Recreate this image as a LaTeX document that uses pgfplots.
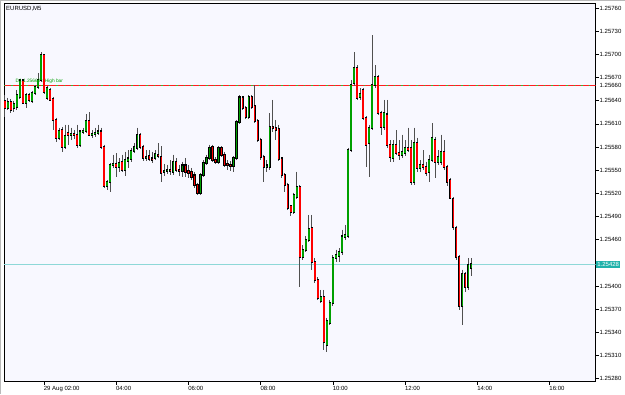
\documentclass[border=0pt]{standalone}
\usepackage{fontspec}
\setmainfont{Liberation Sans}
\usepackage{pgfplots}
\usepackage{pgfplotstable}
\pgfplotsset{compat=1.18}
\definecolor{bull}{HTML}{00A000}
\definecolor{bear}{HTML}{FF0000}
\definecolor{wick}{HTML}{505050}
\definecolor{plotbg}{HTML}{F8F8FF}
\definecolor{pricebox}{HTML}{20B2AA}
\definecolor{priceline}{HTML}{8ED8D8}
\definecolor{lvlred}{HTML}{FF2020}
\definecolor{lvlgreen}{HTML}{30C030}

\pgfplotstableread{
k O H L C
11 1.25640 1.25647 1.25619 1.25631
12 1.25631 1.25644 1.25628 1.25638
13 1.25638 1.25642 1.25624 1.25628
14 1.25631 1.25640 1.25625 1.25636
15 1.25632 1.25654 1.25628 1.25647
16 1.25645 1.25668 1.25642 1.25666
17 1.25666 1.25667 1.25636 1.25637
18 1.25637 1.25650 1.25631 1.25647
19 1.25647 1.25650 1.25638 1.25641
20 1.25640 1.25653 1.25637 1.25650
21 1.25650 1.25660 1.25647 1.25658
22 1.25658 1.25676 1.25655 1.25667
23 1.25667 1.25703 1.25664 1.25699
24 1.25699 1.25700 1.25649 1.25651
25 1.25644 1.25659 1.25641 1.25656
26 1.25654 1.25656 1.25640 1.25641
27 1.25642 1.25645 1.25602 1.25615
28 1.25615 1.25618 1.25587 1.25592
29 1.25592 1.25605 1.25589 1.25601
30 1.25602 1.25606 1.25574 1.25580
31 1.25580 1.25609 1.25578 1.25594
32 1.25598 1.25609 1.25583 1.25596
33 1.25596 1.25605 1.25589 1.25597
34 1.25597 1.25602 1.25590 1.25596
35 1.25596 1.25609 1.25579 1.25583
36 1.25583 1.25602 1.25580 1.25600
37 1.25600 1.25605 1.25597 1.25601
38 1.25601 1.25623 1.25598 1.25614
39 1.25614 1.25625 1.25594 1.25596
40 1.25596 1.25602 1.25592 1.25597
41 1.25597 1.25605 1.25593 1.25598
42 1.25598 1.25609 1.25596 1.25600
43 1.25600 1.25605 1.25578 1.25580
44 1.25580 1.25583 1.25527 1.25530
45 1.25530 1.25537 1.25524 1.25535
46 1.25535 1.25559 1.25522 1.25557
47 1.25557 1.25570 1.25553 1.25558
48 1.25558 1.25572 1.25541 1.25554
49 1.25554 1.25566 1.25548 1.25559
50 1.25561 1.25570 1.25548 1.25550
51 1.25550 1.25574 1.25543 1.25563
52 1.25562 1.25576 1.25553 1.25565
53 1.25565 1.25579 1.25561 1.25575
54 1.25575 1.25585 1.25572 1.25580
55 1.25579 1.25605 1.25576 1.25596
56 1.25596 1.25598 1.25578 1.25580
57 1.25580 1.25583 1.25562 1.25566
58 1.25566 1.25576 1.25562 1.25567
59 1.25568 1.25576 1.25562 1.25565
60 1.25565 1.25574 1.25559 1.25563
61 1.25566 1.25576 1.25563 1.25571
62 1.25570 1.25585 1.25566 1.25568
63 1.25567 1.25581 1.25535 1.25546
64 1.25548 1.25558 1.25543 1.25549
65 1.25549 1.25557 1.25545 1.25550
66 1.25550 1.25563 1.25544 1.25549
67 1.25548 1.25570 1.25544 1.25561
68 1.25561 1.25566 1.25548 1.25550
69 1.25550 1.25557 1.25543 1.25549
70 1.25549 1.25561 1.25541 1.25556
71 1.25556 1.25566 1.25541 1.25548
72 1.25549 1.25557 1.25540 1.25546
73 1.25548 1.25553 1.25537 1.25541
74 1.25543 1.25548 1.25527 1.25531
75 1.25531 1.25534 1.25518 1.25521
76 1.25521 1.25546 1.25518 1.25544
77 1.25544 1.25563 1.25541 1.25559
78 1.25559 1.25570 1.25557 1.25566
79 1.25566 1.25583 1.25563 1.25579
80 1.25580 1.25583 1.25561 1.25563
81 1.25563 1.25567 1.25558 1.25561
82 1.25561 1.25581 1.25558 1.25579
83 1.25579 1.25581 1.25567 1.25570
84 1.25570 1.25574 1.25554 1.25557
85 1.25558 1.25563 1.25550 1.25557
86 1.25557 1.25562 1.25549 1.25556
87 1.25556 1.25568 1.25548 1.25566
88 1.25566 1.25615 1.25563 1.25612
89 1.25612 1.25647 1.25610 1.25644
90 1.25644 1.25646 1.25628 1.25631
91 1.25631 1.25633 1.25616 1.25619
92 1.25619 1.25647 1.25616 1.25645
93 1.25645 1.25647 1.25629 1.25632
94 1.25633 1.25660 1.25611 1.25614
95 1.25614 1.25616 1.25587 1.25589
96 1.25589 1.25592 1.25563 1.25567
97 1.25567 1.25570 1.25535 1.25554
98 1.25554 1.25563 1.25548 1.25556
99 1.25554 1.25624 1.25550 1.25606
100 1.25606 1.25641 1.25600 1.25605
101 1.25605 1.25615 1.25589 1.25602
102 1.25603 1.25609 1.25562 1.25565
103 1.25565 1.25567 1.25540 1.25544
104 1.25544 1.25546 1.25522 1.25531
105 1.25531 1.25534 1.25499 1.25501
106 1.25503 1.25505 1.25490 1.25496
107 1.25496 1.25521 1.25493 1.25518
108 1.25515 1.25548 1.25513 1.25528
109 1.25528 1.25531 1.25398 1.25438
110 1.25438 1.25453 1.25434 1.25447
111 1.25447 1.25465 1.25444 1.25460
112 1.25460 1.25492 1.25457 1.25474
113 1.25475 1.25492 1.25421 1.25431
114 1.25431 1.25436 1.25404 1.25408
115 1.25408 1.25411 1.25382 1.25385
116 1.25381 1.25395 1.25378 1.25386
117 1.25386 1.25395 1.25317 1.25327
118 1.25324 1.25359 1.25315 1.25354
119 1.25352 1.25382 1.25349 1.25378
120 1.25378 1.25440 1.25374 1.25436
121 1.25436 1.25447 1.25431 1.25440
122 1.25439 1.25449 1.25431 1.25444
123 1.25444 1.25473 1.25440 1.25464
124 1.25464 1.25479 1.25460 1.25466
125 1.25465 1.25579 1.25462 1.25576
126 1.25576 1.25667 1.25574 1.25660
127 1.25663 1.25703 1.25659 1.25682
128 1.25682 1.25686 1.25641 1.25644
129 1.25645 1.25656 1.25641 1.25649
130 1.25654 1.25656 1.25615 1.25618
131 1.25618 1.25620 1.25554 1.25583
132 1.25585 1.25609 1.25541 1.25605
133 1.25605 1.25725 1.25602 1.25660
134 1.25660 1.25686 1.25656 1.25671
135 1.25671 1.25673 1.25622 1.25624
136 1.25624 1.25627 1.25596 1.25606
137 1.25606 1.25641 1.25602 1.25624
138 1.25622 1.25641 1.25579 1.25583
139 1.25583 1.25589 1.25561 1.25567
140 1.25566 1.25589 1.25561 1.25583
141 1.25583 1.25602 1.25570 1.25572
142 1.25572 1.25589 1.25563 1.25570
143 1.25570 1.25596 1.25566 1.25574
144 1.25572 1.25589 1.25568 1.25579
145 1.25579 1.25605 1.25574 1.25576
146 1.25579 1.25589 1.25531 1.25535
147 1.25535 1.25605 1.25531 1.25585
148 1.25585 1.25592 1.25548 1.25553
149 1.25553 1.25563 1.25548 1.25557
150 1.25557 1.25576 1.25550 1.25554
151 1.25554 1.25561 1.25543 1.25546
152 1.25548 1.25570 1.25535 1.25563
153 1.25563 1.25611 1.25561 1.25592
154 1.25589 1.25593 1.25540 1.25561
155 1.25561 1.25576 1.25557 1.25567
156 1.25561 1.25596 1.25557 1.25574
157 1.25574 1.25589 1.25550 1.25554
158 1.25554 1.25557 1.25530 1.25535
159 1.25537 1.25540 1.25512 1.25514
160 1.25513 1.25515 1.25473 1.25477
161 1.25475 1.25478 1.25434 1.25438
162 1.25438 1.25440 1.25369 1.25374
163 1.25374 1.25421 1.25350 1.25416
164 1.25416 1.25418 1.25392 1.25399
165 1.25399 1.25436 1.25395 1.25427
166 1.25423 1.25436 1.25413 1.25428
}\candles

\begin{document}
\begin{tikzpicture}[x=1bp,y=1bp]
\fill[white] (0,0) rectangle (625,394);
\draw[gray!55, line width=1bp] (0.5,0) -- (0.5,393.5) -- (625,393.5);
\begin{axis}[
  at={(4bp,12bp)}, anchor=south west,
  scale only axis, width=592bp, height=379bp,
  xmin=10.72, xmax=207.27, ymin=1.25276, ymax=1.257665,
  axis background/.style={fill=plotbg},
  axis line style={black, line width=0.8bp},
  xtick={24,48,72,96,120,144,168,192},
  xticklabels={29 Aug 02:00,04:00,06:00,08:00,10:00,12:00,14:00,16:00},
  ytick={1.25280,1.25310,1.25340,1.25370,1.25400,1.25460,1.25490,1.25520,1.25550,1.25580,1.25610,1.25640,1.25670,1.25700,1.25730,1.25760},
  yticklabels={1.25280,1.25310,1.25340,1.25370,1.25400,1.25460,1.25490,1.25520,1.25550,1.25580,1.25610,1.25640,1.25670,1.25700,1.25730,1.25760},
  yticklabel pos=right, ytick pos=right, xtick pos=bottom,
  tick align=outside, major tick length=3bp,
  tick style={black, line width=0.5bp},
  ticklabel style={font=\fontsize{6bp}{7bp}\selectfont, inner sep=0pt},
  xticklabel style={anchor=north west, xshift=-0.3bp, yshift=-1bp},
  yticklabel style={anchor=west, xshift=1bp},
  candle/.style={draw=none, mark=none, error bars/.cd, y dir=minus, y explicit, error mark=none},
]
% level line 1.25660 (red with sparse green dashes) and current price 1.25428
\addplot[draw=lvlred, line width=1.4bp, mark=none] coordinates {(10.72,1.256595) (207.27,1.256595)};
\addplot[draw=lvlgreen, line width=1.4bp, mark=none, dash pattern=on 1.5bp off 6bp] coordinates {(10.72,1.256595) (207.27,1.256595)};
\addplot[draw=priceline, line width=0.8bp, mark=none] coordinates {(10.72,1.25428) (207.27,1.25428)};
% wicks
\addplot[candle, error bar style={draw=wick, line width=0.8bp}]
  table[x=k, y=H, y error minus expr={\thisrow{H}-\thisrow{L}}] {\candles};
% bearish bodies
\addplot[restrict expr to domain={\thisrow{C}-\thisrow{O}}{-1:0},
  candle, error bar style={draw=black, line width=2.2bp, line cap=rect}]
  table[x=k, y=O, y error minus expr={\thisrow{O}-\thisrow{C}}] {\candles};
\addplot[restrict expr to domain={\thisrow{C}-\thisrow{O}}{-1:0},
  candle, error bar style={draw=bear, line width=1.5bp}]
  table[x=k, y=O, y error minus expr={\thisrow{O}-\thisrow{C}}] {\candles};
% bullish bodies
\addplot[restrict expr to domain={\thisrow{C}-\thisrow{O}}{0.000005:1},
  candle, error bar style={draw=black, line width=2.2bp, line cap=rect}]
  table[x=k, y=C, y error minus expr={\thisrow{C}-\thisrow{O}}] {\candles};
\addplot[restrict expr to domain={\thisrow{C}-\thisrow{O}}{0.000005:1},
  candle, error bar style={draw=bull, line width=1.5bp}]
  table[x=k, y=C, y error minus expr={\thisrow{C}-\thisrow{O}}] {\candles};
\node[anchor=south west, inner sep=0pt, text=bull, font=\fontsize{4.8bp}{5bp}\selectfont] at (axis cs:14.5,1.25662) {D1 1.25660 : High bar};
\coordinate (lvl) at (axis cs:207.27,1.25660);
\coordinate (cur) at (axis cs:207.27,1.25428);
\coordinate (tl) at (rel axis cs:0,1);
\end{axis}
\node[anchor=north west, inner sep=0pt, font=\fontsize{6bp}{7bp}\selectfont] at ([xshift=2bp,yshift=-3bp]tl) {EURUSD,M5};
\node[anchor=west, inner sep=0pt, font=\fontsize{6bp}{7bp}\selectfont] at ([xshift=4bp]lvl) {1.25660};
\node[anchor=west, fill=pricebox, text=white, inner xsep=1bp, inner ysep=1.2bp, font=\fontsize{6bp}{7bp}\selectfont] at ([xshift=0.6bp]cur) {1.25428};
\end{tikzpicture}
\end{document}
